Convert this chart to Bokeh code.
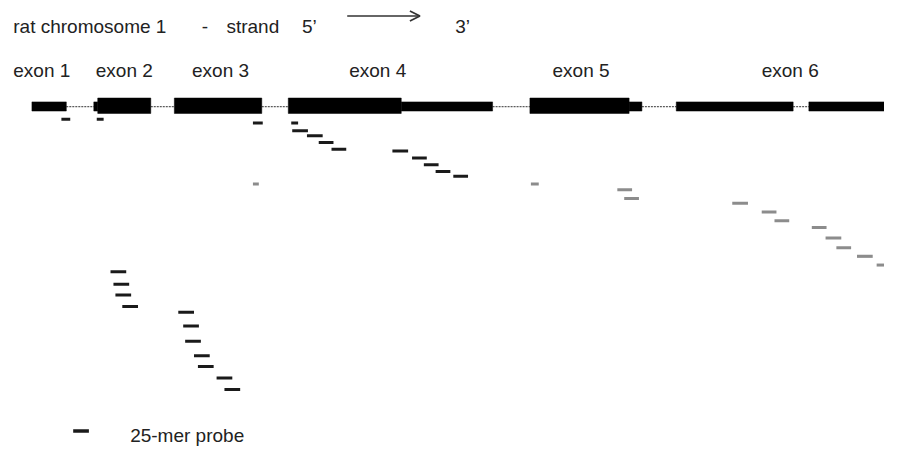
from bokeh.plotting import figure
from bokeh.models import Range1d, Arrow, OpenHead
from bokeh.core.properties import value
from bokeh.embed import file_html
from bokeh.resources import INLINE

# ---- gene model (x in drawing units along chromosome) ----
cds_start = [99, 177, 293, 539]
cds_end = [153, 266, 408, 640]
utr_start = [32, 95, 408, 640, 688, 823]
utr_end = [67, 99, 501, 653, 807, 900]
intron_start = [67, 153, 266, 501, 653, 807]
intron_end = [95, 177, 293, 539, 688, 823]
gene_y = 110

exon_labels = ["exon 1", "exon 2", "exon 3", "exon 4", "exon 5", "exon 6"]
exon_label_x = [13, 97, 195, 355, 562, 775]

# ---- probes ----
black_start = [62, 98, 257, 296, 297, 312, 324, 337, 399, 419, 431, 443, 461,
               112, 115, 117, 124, 181, 186, 188, 197, 201, 220, 228]
black_end = [71, 105, 267, 303, 313, 328, 339, 352, 415, 434, 446, 458, 476,
             128, 131, 133, 140, 197, 202, 204, 213, 217, 236, 244]
black_row = [123, 123, 127, 127, 135, 140, 147, 154, 156, 163, 170, 177, 182,
             281, 294, 305, 317, 323, 337, 353, 368, 379, 391, 403]

gray_start = [257, 540, 628, 635, 745, 775, 788, 826, 840, 851, 872, 892]
gray_end = [263, 548, 643, 650, 761, 790, 803, 841, 856, 866, 888, 908]
gray_row = [190, 190, 196, 205, 210, 219, 228, 235, 246, 256, 265, 274]

title_texts = ["rat chromosome 1", "-", "strand", "5\u2019", "3\u2019"]
title_x = [13, 205, 230, 307, 463]
title_y = 26.5
arrow_x0, arrow_x1, arrow_y = 353, 427, 16

legend_text = "25-mer probe"
legend_x0, legend_x1, legend_y = 74, 90, 446
legend_text_x = 132
legend_text_y = 451

FONT = value("Liberation Sans")
FS = "19px"

p = figure(width=884, height=448, output_backend="svg", toolbar_location=None,
           x_range=Range1d(0, 900), y_range=Range1d(464, 0),
           x_axis_type=None, y_axis_type=None, min_border=0,
           outline_line_color=None, background_fill_color="white",
           border_fill_color="white")
p.grid.visible = False

# introns
p.segment(x0=intron_start, x1=intron_end, y0=[gene_y] * len(intron_start),
          y1=[gene_y] * len(intron_start), line_color="#333333", line_width=1,
          line_dash="2 1")
# UTR (thin) blocks
p.quad(left=utr_start, right=utr_end, bottom=[gene_y + 4.5] * len(utr_start),
       top=[gene_y - 5] * len(utr_start), fill_color="black", line_color="black",
       line_width=0.5)
# CDS (thick) blocks
p.quad(left=cds_start, right=cds_end, bottom=[gene_y + 7] * len(cds_start),
       top=[gene_y - 9] * len(cds_start), fill_color="black", line_color="black",
       line_width=0.5)

# probes
p.segment(x0=black_start, x1=black_end, y0=black_row, y1=black_row,
          line_color="#1a1a1a", line_width=3, line_cap="butt")
p.segment(x0=gray_start, x1=gray_end, y0=gray_row, y1=gray_row,
          line_color="#8c8c8c", line_width=3, line_cap="butt")

# texts
p.text(x=title_x, y=[title_y] * len(title_x), text=title_texts,
       text_font=FONT, text_font_size=FS, text_color="#222222",
       text_baseline="alphabetic", text_align="left")
p.text(x=exon_label_x, y=[72] * len(exon_label_x), text=exon_labels,
       text_font=FONT, text_font_size=FS, text_color="#222222",
       text_baseline="alphabetic", text_align="left")

p.add_layout(Arrow(end=OpenHead(size=10, line_width=1.8, line_color="#333333"),
                   x_start=arrow_x0, y_start=arrow_y, x_end=arrow_x1, y_end=arrow_y,
                   line_width=1.5, line_color="#333333"))

# legend
p.segment(x0=[legend_x0], x1=[legend_x1], y0=[legend_y], y1=[legend_y],
          line_color="#1a1a1a", line_width=3.5, line_cap="butt")
p.text(x=[legend_text_x], y=[legend_text_y], text=[legend_text], text_font=FONT,
       text_font_size=FS, text_color="#222222", text_baseline="alphabetic",
       text_align="left")

open("out.html", "w").write(file_html(p, INLINE))
